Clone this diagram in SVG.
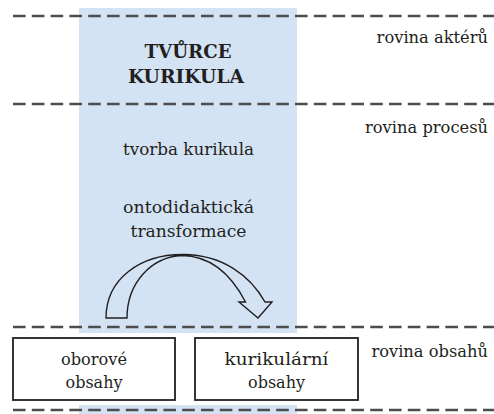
<svg xmlns="http://www.w3.org/2000/svg" width="494" height="414" viewBox="0 0 494 414">
<style>
.dash{stroke:#4d4d4d;stroke-width:2.3;stroke-dasharray:12.6 6.2;fill:none}
text{font-family:'DejaVu Serif',serif;font-size:17px;fill:#231f20}
.lv{font-size:16.3px}
.b{font-weight:bold;font-size:18px}
.box{fill:#fff;stroke:#231f20;stroke-width:1.8}
.arr{fill:none;stroke:#231f20;stroke-width:1.4;stroke-linejoin:miter}
</style>
<rect width="494" height="414" fill="#fff"/>
<g id="band">
<rect x="79" y="8" width="218" height="325" fill="#d3e3f4"/>
<rect x="79" y="405" width="218" height="9" fill="#d3e3f4"/>
</g>
<g id="levels">
<line class="dash" x1="13" y1="16" x2="494" y2="16"/>
<line class="dash" x1="13" y1="104" x2="494" y2="104"/>
<line class="dash" x1="13" y1="327" x2="494" y2="327"/>
<line class="dash" x1="13" y1="410" x2="494" y2="410"/>
</g>
<g id="labels">
<text class="lv" x="488" y="43" text-anchor="end">rovina aktérů</text>
<text class="lv" x="488" y="133" text-anchor="end">rovina procesů</text>
<text class="lv" x="488" y="357" text-anchor="end">rovina obsahů</text>
</g>
<g id="tvurce">
<text class="b" x="188" y="58" text-anchor="middle" textLength="87" lengthAdjust="spacingAndGlyphs">TVŮRCE</text>
<text class="b" x="186" y="83" text-anchor="middle" textLength="116" lengthAdjust="spacingAndGlyphs">KURIKULA</text>
</g>
<g id="tvorba">
<text x="188.5" y="155" text-anchor="middle" textLength="131" lengthAdjust="spacingAndGlyphs">tvorba kurikula</text>
</g>
<g id="transformace">
<text x="188.5" y="213" text-anchor="middle" textLength="131" lengthAdjust="spacingAndGlyphs">ontodidaktická</text>
<text x="188.5" y="237" text-anchor="middle" textLength="116" lengthAdjust="spacingAndGlyphs">transformace</text>
</g>
<g id="connectors">
<path class="arr" d="M106,318 C106,279 140,254 184,254.5 C222,255 250,275 265,302 L272,302 L258,318 L239,302 L245.5,302 C232,276 212,256 182,255.5 C151,257 127,283 127,318 Z"/>
</g>
<g id="oborove">
<rect class="box" x="13" y="338" width="162" height="62"/>
<text x="94" y="365" text-anchor="middle" textLength="66" lengthAdjust="spacingAndGlyphs">oborové</text>
<text x="94" y="388" text-anchor="middle" textLength="57" lengthAdjust="spacingAndGlyphs">obsahy</text>
</g>
<g id="kurikularni">
<rect class="box" x="195" y="338" width="163" height="62"/>
<text x="276.5" y="365" text-anchor="middle" textLength="104" lengthAdjust="spacingAndGlyphs">kurikulární</text>
<text x="276.5" y="388" text-anchor="middle" textLength="57" lengthAdjust="spacingAndGlyphs">obsahy</text>
</g>
</svg>
